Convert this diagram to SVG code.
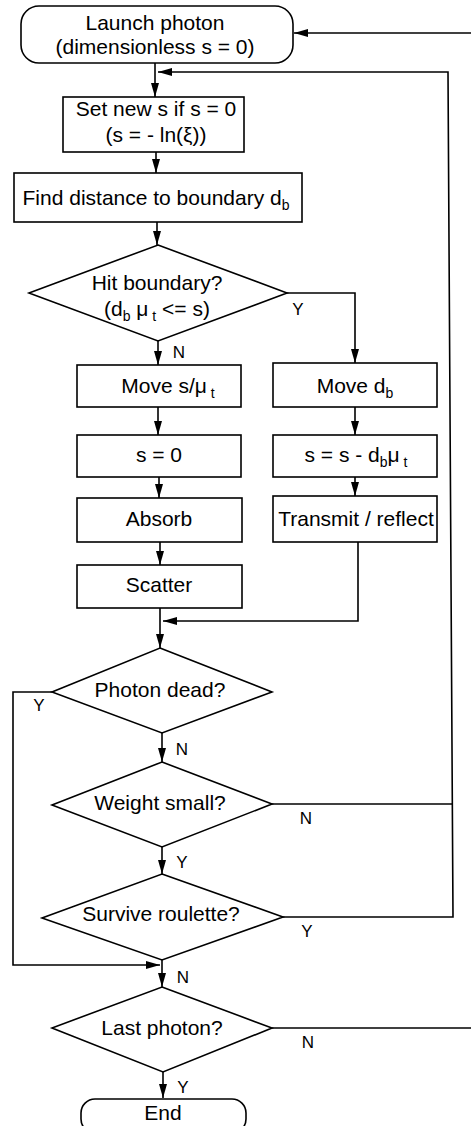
<svg xmlns="http://www.w3.org/2000/svg" width="471" height="1126" viewBox="0 0 471 1126">
<style>
.box{fill:#fff;stroke:#000;stroke-width:1.6}
.c{fill:none;stroke:#000;stroke-width:1.6}
text{font-family:"Liberation Sans",Arial,Helvetica,sans-serif;fill:#000}
.t{font-size:21px;text-anchor:middle}
.l{font-size:17px;text-anchor:middle}
.s{font-size:14px}
</style>
<defs>
<marker id="a" markerUnits="userSpaceOnUse" markerWidth="14" markerHeight="8" refX="14" refY="4" orient="auto">
<path d="M0,0 L14,4 L0,8 z" fill="#000"/>
</marker>
</defs>
<rect width="471" height="1126" fill="#fff"/>
<g id="connectors">
<path class="c" d="M471,33 H294" marker-end="url(#a)"/>
<path class="c" d="M272,1028 H471"/>
<path class="c" d="M283,917 H453 L448,72 H158" marker-end="url(#a)"/>
<path class="c" d="M272,804 H452"/>
<path class="c" d="M155,63 V97" marker-end="url(#a)"/>
<path class="c" d="M156,152 V173" marker-end="url(#a)"/>
<path class="c" d="M157,222 V245" marker-end="url(#a)"/>
<path class="c" d="M158,341 V365" marker-end="url(#a)"/>
<path class="c" d="M287,293 H355 V363" marker-end="url(#a)"/>
<path class="c" d="M158,407 V435" marker-end="url(#a)"/>
<path class="c" d="M355,407 V435" marker-end="url(#a)"/>
<path class="c" d="M159,477 V498" marker-end="url(#a)"/>
<path class="c" d="M355,477 V496" marker-end="url(#a)"/>
<path class="c" d="M160,542 V565" marker-end="url(#a)"/>
<path class="c" d="M358,542 V621 H163" marker-end="url(#a)"/>
<path class="c" d="M160,608 V648" marker-end="url(#a)"/>
<path class="c" d="M162,733 V762" marker-end="url(#a)"/>
<path class="c" d="M52,692 H13 V965 H160" marker-end="url(#a)"/>
<path class="c" d="M162,847 V874" marker-end="url(#a)"/>
<path class="c" d="M162,960 V987" marker-end="url(#a)"/>
<path class="c" d="M163,1072 V1098" marker-end="url(#a)"/>
<text class="l" x="298" y="315">Y</text>
<text class="l" x="179" y="358">N</text>
<text class="l" x="39" y="711">Y</text>
<text class="l" x="182" y="755">N</text>
<text class="l" x="306" y="824">N</text>
<text class="l" x="182" y="868">Y</text>
<text class="l" x="307" y="937">Y</text>
<text class="l" x="183" y="983">N</text>
<text class="l" x="308" y="1048">N</text>
<text class="l" x="183" y="1093">Y</text>
</g>
<g id="launch">
<rect class="box" x="21" y="6" width="272" height="57" rx="18"/>
<text class="t" x="155" y="30">Launch photon</text>
<text class="t" x="155" y="54">(dimensionless s = 0)</text>
</g>
<g id="setnew">
<rect class="box" x="63" y="97" width="181" height="55"/>
<text class="t" x="156" y="116">Set new s if s = 0</text>
<text class="t" x="156" y="142">(s = - ln(ξ))</text>
</g>
<g id="find">
<rect class="box" x="14" y="173" width="288" height="49"/>
<text class="t" x="156" y="205">Find distance to boundary d<tspan class="s" dy="5">b</tspan></text>
</g>
<g id="hit">
<polygon class="box" points="158,245 287,293 158,341 29,293"/>
<text class="t" x="157" y="290">Hit boundary?</text>
<text class="t" x="157" y="316">(d<tspan class="s" dy="5">b</tspan><tspan dy="-5"> μ</tspan><tspan class="s" dy="5"> t</tspan><tspan dy="-5"> &lt;= s)</tspan></text>
</g>
<g id="moves">
<rect class="box" x="77" y="365" width="164" height="42"/>
<text class="t" x="168" y="393">Move s/μ<tspan class="s" dy="5"> t</tspan></text>
</g>
<g id="movedb">
<rect class="box" x="273" y="363" width="164" height="44"/>
<text class="t" x="355" y="393">Move d<tspan class="s" dy="5">b</tspan></text>
</g>
<g id="szero">
<rect class="box" x="77" y="435" width="164" height="42"/>
<text class="t" x="159" y="462">s = 0</text>
</g>
<g id="supdate">
<rect class="box" x="273" y="435" width="164" height="42"/>
<text class="t" x="356" y="462">s = s - d<tspan class="s" dy="5">b</tspan><tspan dy="-5">μ</tspan><tspan class="s" dy="5"> t</tspan></text>
</g>
<g id="absorb">
<rect class="box" x="77" y="498" width="165" height="44"/>
<text class="t" x="159" y="526">Absorb</text>
</g>
<g id="transmit">
<rect class="box" x="273" y="496" width="164" height="46"/>
<text class="t" x="356" y="526">Transmit / reflect</text>
</g>
<g id="scatter">
<rect class="box" x="77" y="565" width="165" height="43"/>
<text class="t" x="159" y="592">Scatter</text>
</g>
<g id="dead">
<polygon class="box" points="160,648 272,692 162,733 52,692"/>
<text class="t" x="160" y="697">Photon dead?</text>
</g>
<g id="weight">
<polygon class="box" points="162,762 272,804 162,847 52,805"/>
<text class="t" x="160" y="810">Weight small?</text>
</g>
<g id="roulette">
<polygon class="box" points="162,874 283,917 162,960 42,918"/>
<text class="t" x="161" y="921">Survive roulette?</text>
</g>
<g id="last">
<polygon class="box" points="162,987 272,1028 163,1072 52,1028"/>
<text class="t" x="162" y="1035">Last photon?</text>
</g>
<g id="end">
<rect class="box" x="81" y="1099" width="165" height="34" rx="14"/>
<text class="t" x="163" y="1120">End</text>
</g>
</svg>
